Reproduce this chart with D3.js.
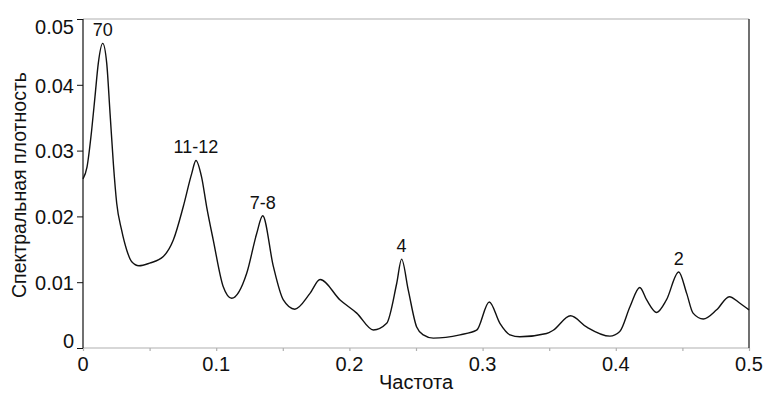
<!DOCTYPE html>
<html><head><meta charset="utf-8">
<script src="https://cdn.jsdelivr.net/npm/d3@7"></script>
<style>body{margin:0;background:#fff}svg{display:block;font-family:"Liberation Sans",Arial,sans-serif}</style>
</head><body><svg id="c" width="764" height="394"></svg>
<script>
const freq = [0,0.003,0.0065,0.009,0.0115,0.0148,0.0178,0.0203,0.0228,0.0253,0.029,0.0328,0.0366,0.042,0.05,0.0603,0.0678,0.0753,0.0816,0.0848,0.089,0.0928,0.0978,0.1053,0.1116,0.1229,0.1304,0.1349,0.1429,0.1504,0.159,0.1704,0.178,0.193,0.2055,0.218,0.228,0.2355,0.2392,0.2442,0.2505,0.2555,0.263,0.283,0.2955,0.305,0.313,0.3206,0.328,0.348,0.353,0.366,0.378,0.3956,0.403,0.4107,0.418,0.4232,0.4307,0.438,0.4472,0.4532,0.458,0.4657,0.4757,0.4852,0.4932,0.5];
const density = [0.0257,0.0275,0.0331,0.0382,0.0433,0.0463,0.0433,0.0357,0.028,0.022,0.0179,0.0149,0.0131,0.0125,0.0129,0.0139,0.0164,0.0215,0.0265,0.0285,0.026,0.0215,0.0164,0.0093,0.00755,0.01135,0.0174,0.0201,0.0124,0.0073,0.0059,0.0083,0.0104,0.0073,0.0053,0.00274,0.00375,0.0098,0.0135,0.0088,0.0032,0.002,0.0015,0.002,0.0027,0.007,0.00375,0.002,0.0017,0.0022,0.0027,0.0049,0.0032,0.0018,0.0025,0.0063,0.0092,0.0073,0.0054,0.0073,0.01155,0.0083,0.0053,0.0044,0.0058,0.0078,0.0068,0.0058];
const xTicks = [0,0.05,0.1,0.15,0.2,0.25,0.3,0.35,0.4,0.45,0.5];
const xLabels = [0,0.1,0.2,0.3,0.4,0.5];
const yTicks = [0,0.01,0.02,0.03,0.04,0.05];
const peakLabels = ["70","11-12","7-8","4","2"];
const peakFreq = [0.0148,0.0848,0.1349,0.2392,0.4472];
const peakVal = [0.0463,0.0285,0.0201,0.0135,0.01155];

const svg = d3.select("#c");
const x = d3.scaleLinear().domain([0,0.5]).range([83,749]);
const y = d3.scaleLinear().domain([0,0.05]).range([348,19]);

svg.append("line").attr("x1",83).attr("x2",749).attr("y1",y(0.05)).attr("y2",y(0.05)).attr("stroke","#b0b0b0").attr("stroke-width",1.2);
const gx = svg.append("g").attr("transform","translate(0,348)")
  .call(d3.axisBottom(x).tickValues(xTicks).tickSize(3).tickFormat(""));
gx.selectAll("path,line").attr("stroke","#b0b0b0").attr("stroke-width",1.2);
gx.select("path").attr("d","M83,0H749");
svg.append("g").selectAll("text").data(xLabels).join("text")
  .attr("x",d=>x(d)).attr("y",371).attr("text-anchor","middle").attr("font-size",20).attr("fill","#111")
  .text(d=>d===0?"0":d3.format(".1f")(d));

const gy = svg.append("g").attr("transform","translate(83,0)")
  .call(d3.axisLeft(y).tickValues(yTicks).tickSize(6).tickPadding(3).tickFormat(d=>d===0?"0":d3.format(".2f")(d)));
gy.select("path").attr("d","M0,19V348").attr("stroke","#111").attr("stroke-width",1.2);
gy.selectAll("line").attr("stroke","#111");
gy.selectAll("text").attr("font-size",20).attr("font-family","Liberation Sans, Arial, sans-serif").attr("fill","#111")
  .attr("dy",d=>d===0?"-0.05em":d===0.05?"0.7em":"0.36em");
svg.append("line").attr("x1",749).attr("x2",749).attr("y1",19).attr("y2",348).attr("stroke","#111").attr("stroke-width",1.2);

const pts = freq.map((f,i)=>[f,density[i]]);
svg.append("path").datum(pts)
  .attr("d",d3.line().x(d=>x(d[0])).y(d=>y(d[1])).curve(d3.curveMonotoneX))
  .attr("fill","none").attr("stroke","#111").attr("stroke-width",1.4);

svg.append("g").selectAll("text").data(peakLabels).join("text")
  .attr("x",(d,i)=>x(peakFreq[i])).attr("y",(d,i)=>y(peakVal[i])-7)
  .attr("text-anchor","middle").attr("font-size",18).attr("fill","#111").text(d=>d);

svg.append("text").attr("x",416).attr("y",389).attr("text-anchor","middle").attr("font-size",20).attr("fill","#111").text("Частота");
svg.append("text").attr("transform","translate(26,185) rotate(-90)").attr("text-anchor","middle").attr("font-size",19.5).attr("fill","#111").text("Спектральная плотность");
</script></body></html>
